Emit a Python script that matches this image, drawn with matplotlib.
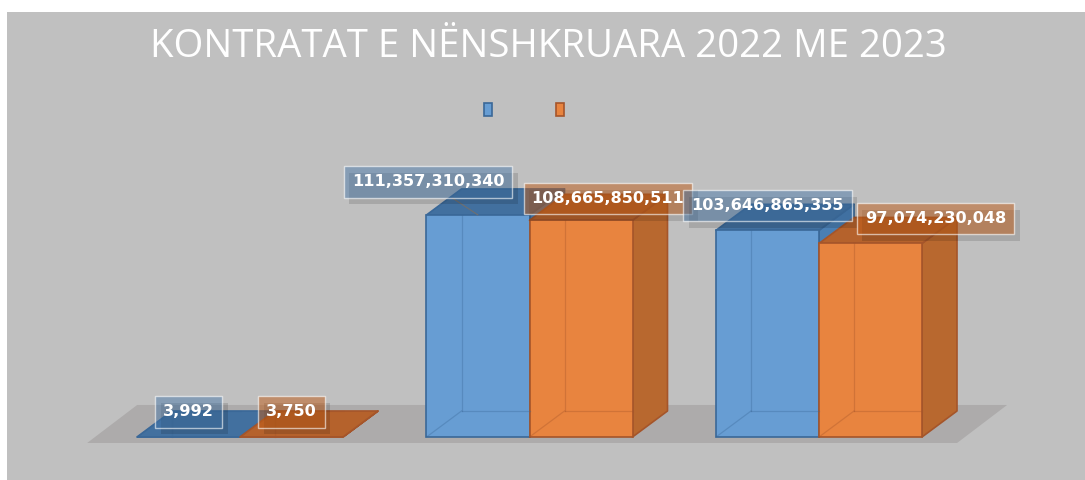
import matplotlib.pyplot as plt
from matplotlib.patches import Polygon, Rectangle, Patch
import matplotlib.patheffects as pe

# data
categories = ["", "", ""]
series = ["2022", "2023"]
values_2022 = [3992, 111357310340, 103646865355]
values_2023 = [3750, 108665850511, 97074230048]
title = "KONTRATAT E NËNSHKRUARA 2022 ME 2023"

# colours
bg = "#c0c0c0"
floor_col = "#adabab"
blue = dict(front="#679dd3", top="#42709f", side="#4a7fb4", edge="#3a6898", box=(0.25, 0.45, 0.66, 0.45))
orange = dict(front="#e8843f", top="#b5622c", side="#b8682f", edge="#a5552a", box=(0.75, 0.36, 0.09, 0.5))
styles = [blue, orange]

fig = plt.figure(figsize=(10.85, 4.8), dpi=100)
fig.patch.set_facecolor("white")
fig.add_artist(Rectangle((7 / 1085, 0), 1, 1 - 12 / 480, transform=fig.transFigure,
                         facecolor=bg, edgecolor="none", zorder=0))

# pixel scale of the plot: one category = 289.5 px, 1e9 = 1.994 px
ax = fig.add_axes([0, 0, 1, 1])
ax.set_xlim(-240 / 289.5, (1085 - 240) / 289.5)
ax.set_ylim(-43 / 1.994 * 1e9, (480 - 43) / 1.994 * 1e9)
ax.axis("off")
ax.patch.set_alpha(0)

W = 103 / 289.5          # bar width
DX = 35 / 289.5          # depth of bars
DY = 26 / 1.994 * 1e9

# floor
fx0, fx1, fy = -0.528, 2.477, -3.0e9
fdx, fdy = 50 / 289.5, 38 / 1.994 * 1e9
ax.add_patch(Polygon([(fx0, fy), (fx1, fy), (fx1 + fdx, fy + fdy), (fx0 + fdx, fy + fdy)],
                     closed=True, facecolor=floor_col, edgecolor="none", zorder=1))


def draw_bar(x0, h, st):
    x1 = x0 + W
    # right side
    ax.add_patch(Polygon([(x1, 0), (x1 + DX, DY), (x1 + DX, h + DY), (x1, h)], closed=True,
                         facecolor=st["side"], edgecolor=st["edge"], lw=1.2, zorder=2, joinstyle="round"))
    # top
    ax.add_patch(Polygon([(x0, h), (x1, h), (x1 + DX, h + DY), (x0 + DX, h + DY)], closed=True,
                         facecolor=st["top"], edgecolor=st["edge"], lw=1.2, zorder=2, joinstyle="round"))
    if h > 0:
        ax.add_patch(Rectangle((x0, 0), W, h, facecolor=st["front"], edgecolor=st["edge"],
                               lw=1.2, zorder=2))
        # hidden edges seen through the bar
        kw = dict(color=st["edge"], lw=0.9, alpha=0.35, zorder=3)
        ax.plot([x0 + DX, x0 + DX], [DY, h], **kw)
        ax.plot([x0, x0 + DX], [0, DY], **kw)
        ax.plot([x0 + DX, x1], [DY, DY], **kw)


for i in range(len(categories)):
    for s, vals in enumerate([values_2022, values_2023]):
        draw_bar(i - W + s * W, vals[i], styles[s])

# data labels (offsets in pixels from the front-top centre of each bar)
offsets = {(0, 0): (0, 25), (0, 1): (0, 25),
           (1, 0): (-50, 33), (1, 1): (27, 22),
           (2, 0): (0, 25), (2, 1): (65, 25)}
order = [(0, 0), (0, 1), (1, 1), (1, 0), (2, 0), (2, 1)]
shadow = [pe.SimplePatchShadow(offset=(4, -5), shadow_rgbFace="black", alpha=0.13), pe.Normal()]
for i, s in order:
    v = [values_2022, values_2023][s][i]
    xc = i - W + s * W + W / 2
    dx, dy = offsets[(i, s)]
    arrow = None
    if (i, s) == (1, 0):
        arrow = dict(arrowstyle="-", color="#6f6f6f", lw=0.8, shrinkA=0, shrinkB=0)
    t = ax.annotate(f"{v:,}", (xc, v), xytext=(dx, dy), textcoords="offset pixels",
                    ha="center", va="center", fontsize=11.6, fontweight="bold", color="white",
                    bbox=dict(boxstyle="square,pad=0.5", facecolor=styles[s]["box"],
                              edgecolor=(1, 1, 1, 0.6), lw=1),
                    arrowprops=arrow, zorder=5)
    t.get_bbox_patch().set_path_effects(shadow)

# title
fig.text(548 / 1085, 1 - 47 / 480, title, ha="center", va="center", color="white",
         fontsize=27.6, family=["Open Sans", "DejaVu Sans"])

# legend (no visible labels, like the original)
handles = [Patch(facecolor=st["front"], edgecolor=st["edge"], lw=1.2) for st in styles]
fig.legend(handles, ["", ""], ncol=2, frameon=False, loc="center",
           bbox_to_anchor=(529.5 / 1085, 1 - 110 / 480), fontsize=10,
           handlelength=0.6, handleheight=1.1, handletextpad=0.8, columnspacing=3.8)

fig.savefig("out.png", dpi=100, facecolor=fig.get_facecolor())
